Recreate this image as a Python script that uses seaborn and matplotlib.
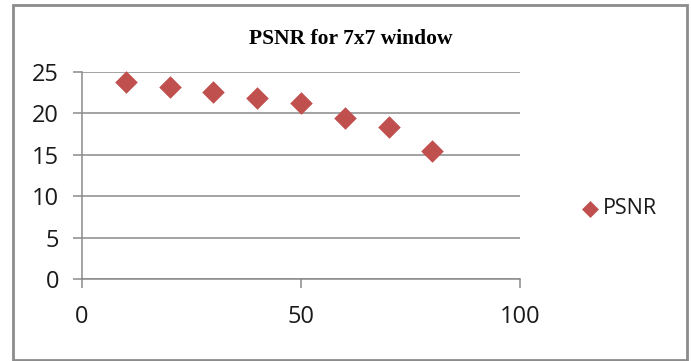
import matplotlib
matplotlib.use("Agg")
import matplotlib.pyplot as plt
import seaborn as sns
import pandas as pd
from matplotlib.patches import Rectangle

# PSNR measured for a 7x7 filter window
noise_levels = [10, 20, 30, 40, 50, 60, 70, 80]
psnr_values = [23.8, 23.2, 22.55, 21.8, 21.2, 19.45, 18.4, 15.4]
x_ticks = [0, 50, 100]
y_ticks = [0, 5, 10, 15, 20, 25]
series_name = "PSNR"
title_text = "PSNR for 7x7 window"

sns.set_theme(style="white")
plt.rcParams["font.family"] = ["Open Sans", "DejaVu Sans"]

grid_color = "#8a8a8a"
marker_color = "#C0504D"

df = pd.DataFrame({"x": noise_levels, "y": psnr_values})

fig = plt.figure(figsize=(6.91, 3.61), dpi=100)
ax = fig.add_axes([82 / 691, 1 - 279 / 361, 438 / 691, 207 / 361])

sns.scatterplot(data=df, x="x", y="y", ax=ax, marker="D", s=132,
                color=marker_color, linewidth=0, label=series_name,
                zorder=3, clip_on=False)

ax.set_xlim(0, 100)
ax.set_ylim(0, 25)
ax.set_xticks(x_ticks)
ax.set_yticks(y_ticks)
ax.set_xlabel("")
ax.set_ylabel("")

ax.grid(axis="y", color=grid_color, linewidth=1.1)
ax.grid(axis="x", visible=False)
ax.set_axisbelow(True)
for side in ["top", "right"]:
    ax.spines[side].set_visible(False)
for side in ["left", "bottom"]:
    ax.spines[side].set_color(grid_color)
    ax.spines[side].set_linewidth(1.1)

ax.tick_params(axis="both", which="major", direction="out", length=6.5,
               width=1.1, color=grid_color, labelsize=17, labelcolor="#1a1a1a")
ax.tick_params(axis="y", pad=10, left=True)
ax.tick_params(axis="x", pad=12, bottom=True)

fig.text(350.5 / 691, 1 - 39 / 361, title_text, ha="center", va="center",
         fontsize=15.5, fontweight="bold", family="Liberation Serif",
         color="#000000")

leg = ax.legend(loc="center left", bbox_to_anchor=(579 / 691, 1 - 209 / 361),
                bbox_transform=fig.transFigure, frameon=False, fontsize=15.5,
                markerscale=0.75, handletextpad=0.1, borderpad=0,
                borderaxespad=0, handlelength=1.0)
for t in leg.get_texts():
    t.set_color("#1a1a1a")

# gray frame around the whole chart area
fig.patches.append(Rectangle((13 / 691, 1 / 361), 674 / 691, 355 / 361,
                             transform=fig.transFigure, fill=False,
                             edgecolor="#8c8c8c", linewidth=2.0))

fig.savefig("out.png", dpi=100)
